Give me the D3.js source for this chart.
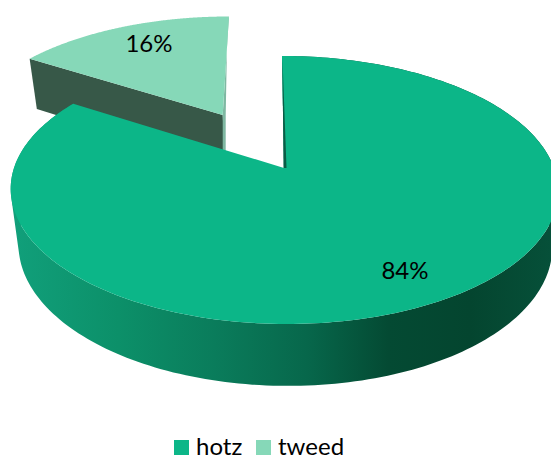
<!DOCTYPE html>
<html>
<head>
<meta charset="utf-8">
<style>html,body{margin:0;padding:0;background:#fff;overflow:hidden}svg{display:block}text{font-family:Lato,"Open Sans",sans-serif;fill:#000}</style>
<script src="https://cdn.jsdelivr.net/npm/d3@7/dist/d3.min.js"></script>
</head>
<body>
<svg id="c" width="551" height="457"></svg>
<script>
const categories = ["hotz", "tweed"];
const values = [84, 16];
const labels = ["84%", "16%"];
const topColors = ["#0CB688", "#86D8B8"];
const wallColors = ["#0b8f6b", "#375848"];

const W = 551, H = 457;
const cx = 284, cy = 168, Rx = 270, Ry = 130.4, k = 0.164, depth = 55, lowerScale = 0.975, explode = 0.497, shear = 0.018;
const svg = d3.select("#c");

// perspective projection of the pie plane; z = 0 top face, z = 1 lower face
function project(u, v, z) {
  const w = 1 + k * (-v);
  const s = z ? lowerScale : 1;
  const y = cy + (Ry * v * s + (z ? depth : 0)) / w;
  return [cx + Rx * u * s / w + (y - cy) * shear, y];
}
const pie = d3.pie().sort(null).startAngle(0).endAngle(2 * Math.PI);
const arcs = pie(values);
const line = d3.line();

function offset(a, i) {
  if (i === 0) return [0, 0];
  const m = (a.startAngle + a.endAngle) / 2;
  return [explode * Math.sin(m), -explode * Math.cos(m)];
}
function rim(a, off, z, from, to) {
  const n = 240, pts = [];
  for (let j = 0; j <= n; j++) {
    const t = from + (to - from) * j / n;
    pts.push(project(off[0] + Math.sin(t), off[1] - Math.cos(t), z));
  }
  return pts;
}

const defs = svg.append("defs");
const wallStops = [
  [0.00, "#11a07b"], [0.20, "#0c9069"], [0.38, "#0a7c5b"], [0.55, "#07674b"],
  [0.70, "#044a33"], [0.85, "#04452f"], [1.00, "#065039"]
];
const g = defs.append("linearGradient").attr("id", "wall").attr("gradientUnits", "userSpaceOnUse")
  .attr("x1", 10).attr("x2", 551).attr("y1", 0).attr("y2", 0);
wallStops.forEach(s => g.append("stop").attr("offset", s[0]).attr("stop-color", s[1]));

// tweed (exploded) first, it sits behind hotz
const a1 = arcs[1], o1 = offset(a1, 1);
const apexT = project(o1[0], o1[1], 0), apexB = project(o1[0], o1[1], 1);
const leftT = project(o1[0] + Math.sin(a1.startAngle), o1[1] - Math.cos(a1.startAngle), 0);
const leftB = project(o1[0] + Math.sin(a1.startAngle), o1[1] - Math.cos(a1.startAngle), 1);
const endT = project(o1[0] + Math.sin(a1.endAngle), o1[1] - Math.cos(a1.endAngle), 0);

svg.append("path").attr("d", line([leftT, apexT, apexB, leftB]) + "Z").attr("fill", wallColors[1]);
svg.append("path").attr("d", line([apexT, endT, [endT[0] - 1.5, endT[1] + 3], [apexT[0] + 3, apexT[1]], [apexT[0] + 3, apexT[1] + 36], [apexT[0], apexT[1] + 36]]) + "Z")
  .attr("fill", "#7fb8a2");
svg.append("path").attr("d", line([apexT, ...rim(a1, o1, 0, a1.startAngle, a1.endAngle)]) + "Z").attr("fill", topColors[1]);

// hotz: the wall is swept as same-winding quads between the two rims, so the silhouette has no notch
const a0 = arcs[0], o0 = [0, 0];
const upper = rim(a0, o0, 0, a0.startAngle, a0.endAngle);
const lower = rim(a0, o0, 1, a0.startAngle, a0.endAngle);
const wallPath = d3.range(upper.length - 1).map(j => {
  const q = [upper[j], upper[j + 1], lower[j + 1], lower[j]];
  return line(d3.polygonArea(q) < 0 ? q.reverse() : q) + "Z";
}).join("");
svg.append("path").attr("d", wallPath).attr("fill", "url(#wall)");
const apex = project(0, 0, 0);
svg.append("path").attr("d", line([apex, ...upper]) + "Z").attr("fill", topColors[0]);
// thin wall sliver along the start edge of hotz
const start = upper[0];
svg.append("path").attr("d", line([[start[0] + 0.5, start[1] + 3], [apex[0] - 0.5, apex[1]], [apex[0] + 2.5, apex[1]]]) + "Z").attr("fill", "#0a5c46");

// labels
const fs = 24;
const labelPos = [[405, 279], [149, 52]];
svg.selectAll("text.lab").data(labels).join("text").attr("class", "lab")
  .attr("x", (d, i) => labelPos[i][0]).attr("y", (d, i) => labelPos[i][1])
  .attr("text-anchor", "middle").attr("font-size", fs).text(d => d);

// legend
const legendX = [174, 256];
categories.forEach((c, i) => {
  svg.append("rect").attr("x", legendX[i]).attr("y", 440).attr("width", 15).attr("height", 15).attr("fill", topColors[i]);
  svg.append("text").attr("x", legendX[i] + 22).attr("y", 455).attr("font-size", fs).text(c);
});
</script>
</body>
</html>
